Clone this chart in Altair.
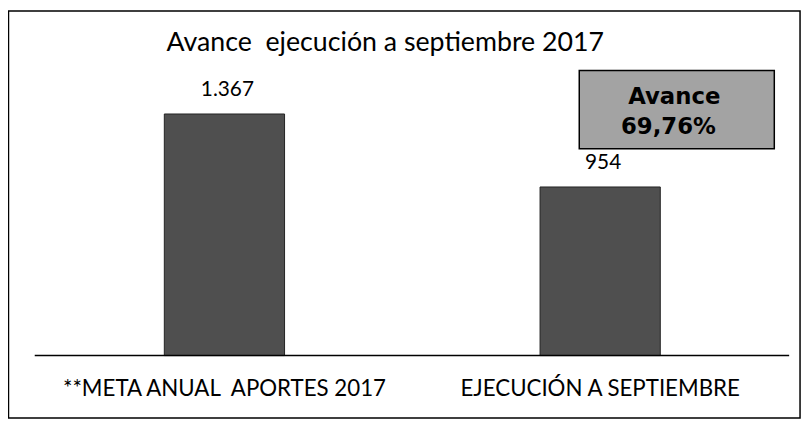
import altair as alt
import pandas as pd

# Data
categorias = ["**META ANUAL\u00a0 APORTES 2017", "EJECUCIÓN A SEPTIEMBRE"]
valores = [1367, 954]
etiquetas = ["1.367", "954"]
titulo = "Avance\u00a0 ejecución a septiembre 2017"
nota_linea1 = "Avance"
nota_linea2 = "69,76%"

df = pd.DataFrame({"categoria": categorias, "valor": valores, "etiqueta": etiquetas})

x_enc = alt.X(
    "categoria:N",
    sort=categorias,
    scale=alt.Scale(paddingInner=0.68, paddingOuter=0.394, align=0.528),
    axis=alt.Axis(
        title=None, labelAngle=0, domain=False, ticks=False, grid=False,
        labelFont="Lato", labelFontSize=22.5, labelColor="black",
        labelPadding=40, labelBaseline="alphabetic", labelLimit=1000,
    ),
)
y_enc = alt.Y("valor:Q", scale=alt.Scale(domain=[0, 1955], nice=False, zero=True), axis=None)

primera = alt.datum.categoria == categorias[0]

bars = alt.Chart().mark_bar(color="#4f4f4f", stroke="#222222", strokeWidth=1).encode(x=x_enc, y=y_enc)

valores_txt = alt.Chart().mark_text(
    dy=-18, dx=3, baseline="alphabetic", font="Lato", fontSize=21, color="black"
).encode(x=x_enc, y=y_enc, text="etiqueta:N")

linea_base = alt.Chart().mark_rule(color="black", strokeWidth=1.5).encode(
    x=alt.value(27), x2=alt.value(789), y=alt.value(349)
).transform_filter(primera)

borde = alt.Chart().mark_rect(
    fill="white", fillOpacity=0, stroke="black", strokeWidth=1.5
).encode(x=alt.value(0.5), x2=alt.value(800), y=alt.value(1), y2=alt.value(412)).transform_filter(primera)

titulo_txt = alt.Chart().mark_text(
    font="Lato", fontSize=27, color="black", baseline="alphabetic", align="center"
).encode(x=alt.value(381), y=alt.value(41), text=alt.value(titulo)).transform_filter(primera)

caja = alt.Chart().mark_rect(
    fill="#a3a3a3", stroke="black", strokeWidth=1.5
).encode(x=alt.value(577), x2=alt.value(774), y=alt.value(61), y2=alt.value(140)).transform_filter(primera)

nota1 = alt.Chart().mark_text(
    font="DejaVu Sans", fontWeight="bold", fontSize=23, color="black",
    baseline="alphabetic", align="center"
).encode(x=alt.value(673), y=alt.value(95), text=alt.value(nota_linea1)).transform_filter(primera)

nota2 = alt.Chart().mark_text(
    font="DejaVu Sans", fontWeight="bold", fontSize=23, color="black",
    baseline="alphabetic", align="center"
).encode(x=alt.value(667), y=alt.value(125), text=alt.value(nota_linea2)).transform_filter(primera)

chart = alt.layer(
    borde, bars, linea_base, valores_txt, titulo_txt, caja, nota1, nota2, data=df
).properties(
    width=800,
    height=349,
    autosize=alt.AutoSizeParams(type="none"),
    padding={"left": 0, "top": 0, "right": 4, "bottom": 66},
    background="white",
).configure_view(stroke=None)

chart.save("out.html", embed_options={"renderer": "svg", "actions": False})
